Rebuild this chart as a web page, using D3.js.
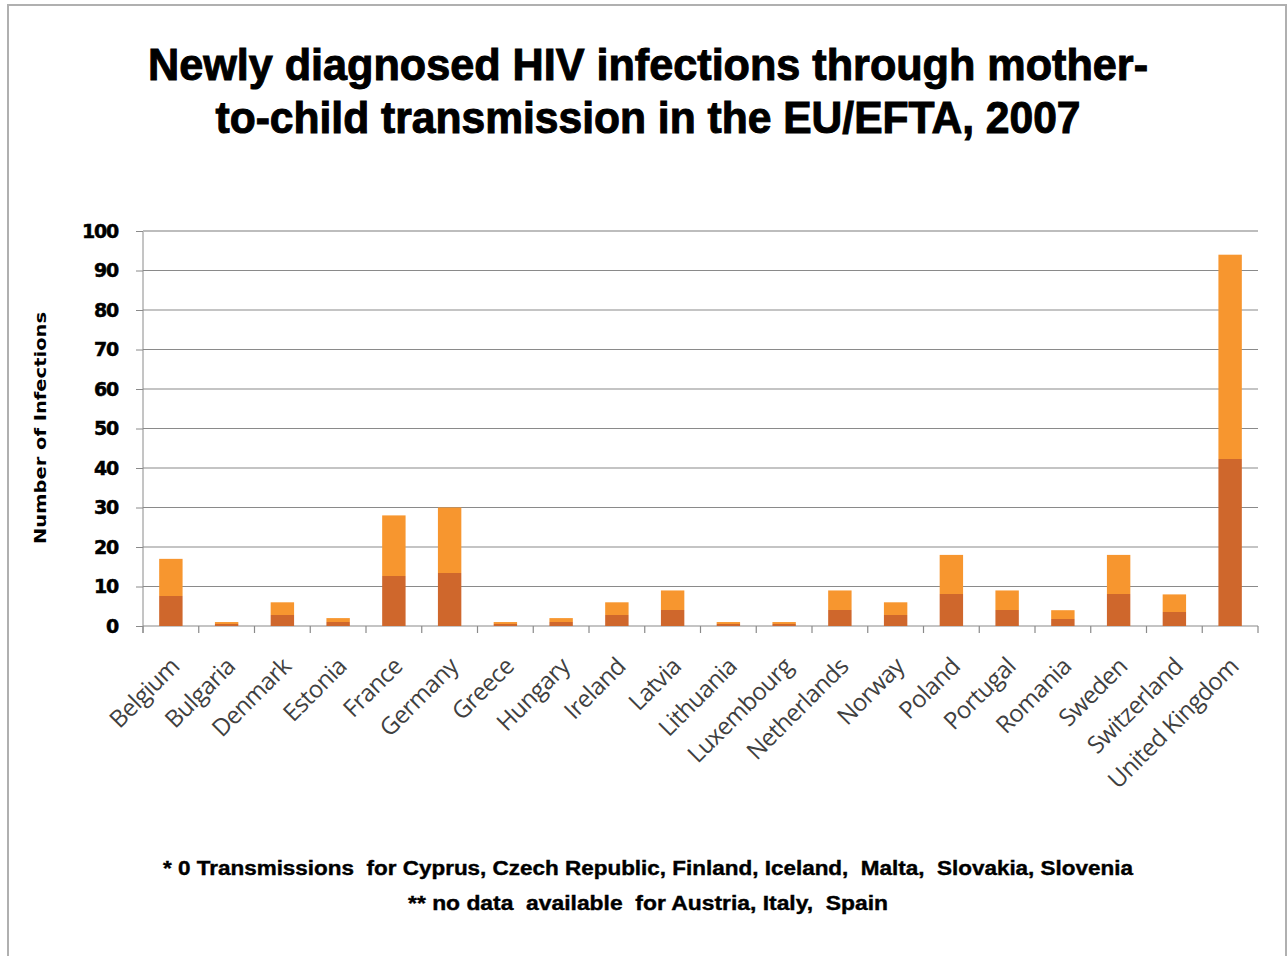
<!DOCTYPE html>
<html><head><meta charset="utf-8">
<script src="https://cdn.jsdelivr.net/npm/d3@7"></script>
<style>html,body{margin:0;padding:0;background:#fff;}svg{display:block;}</style>
</head><body>
<svg id="chart" width="1287" height="956"></svg>
<script>
const countries = ["Belgium","Bulgaria","Denmark","Estonia","France","Germany","Greece","Hungary","Ireland","Latvia","Lithuania","Luxembourg","Netherlands","Norway","Poland","Portugal","Romania","Sweden","Switzerland","United Kingdom"];
const infections = [17,1,6,2,28,30,1,2,6,9,1,1,9,6,18,9,4,18,8,94];
const yTicks = [0,10,20,30,40,50,60,70,80,90,100];
const titleLines = ["Newly diagnosed HIV infections through mother-","to-child transmission in the EU/EFTA, 2007"];
const yLabel = "Number of Infections";
const notes = ["* 0 Transmissions  for Cyprus, Czech Republic, Finland, Iceland,  Malta,  Slovakia, Slovenia","** no data  available  for Austria, Italy,  Spain"];

const svg = d3.select("#chart");
const plot = {left:143, right:1258, top:231, bottom:626};

// outer border
svg.append("rect").attr("x",8).attr("y",5).attr("width",1278).attr("height",960)
  .attr("fill","#fff").attr("stroke","#b0b0b0").attr("stroke-width",2);

const defs = svg.append("defs");
const grad = defs.append("linearGradient").attr("id","barFill").attr("x1",0).attr("y1",0).attr("x2",0).attr("y2",1);
grad.append("stop").attr("offset","0%").attr("stop-color","#f7962f");
grad.append("stop").attr("offset","55%").attr("stop-color","#f7962f");
grad.append("stop").attr("offset","55%").attr("stop-color","#cf672c");
grad.append("stop").attr("offset","100%").attr("stop-color","#cf672c");

const x = d3.scaleBand().domain(countries).range([plot.left, plot.right]).paddingInner(0.58).paddingOuter(0.29);
const xb = d3.scaleLinear().domain([0, countries.length]).range([plot.left, plot.right]);
const y = d3.scaleLinear().domain([0,100]).range([plot.bottom, plot.top]);

// gridlines + y ticks
const yAxis = d3.axisLeft(y).tickValues(yTicks).tickSize(7).tickPadding(18);
const gy = svg.append("g").attr("transform",`translate(${plot.left},0)`).call(yAxis);
gy.select(".domain").attr("stroke","#8a8a8a").attr("d",`M0,${plot.top}V${plot.bottom+7}`);
gy.selectAll(".tick line").attr("stroke","#8a8a8a");
gy.selectAll(".tick text").attr("font-family","'DejaVu Sans', sans-serif").attr("font-weight","bold")
  .attr("font-size",19).attr("fill","#000").attr("letter-spacing","-1.2")
  .attr("stroke","#000").attr("stroke-width",0.5);
svg.append("g").selectAll("line").data(yTicks).join("line")
  .attr("x1",plot.left).attr("x2",plot.right).attr("y1",d=>y(d)).attr("y2",d=>y(d))
  .attr("stroke",d=>d===100?"#bdbdbd":"#8a8a8a").attr("stroke-width",d=>d===100?2:1.2);

// x ticks at category boundaries
svg.append("g").selectAll("line").data(d3.range(countries.length+1)).join("line")
  .attr("x1",d=>xb(d)).attr("x2",d=>xb(d)).attr("y1",plot.bottom).attr("y2",plot.bottom+7)
  .attr("stroke","#8a8a8a").attr("stroke-width",1.2);

// bars
svg.append("g").selectAll("rect").data(countries).join("rect")
  .attr("x",d=>x(d)).attr("width",x.bandwidth())
  .attr("y",(d,i)=>y(infections[i])).attr("height",(d,i)=>y(0)-y(infections[i]))
  .attr("fill","url(#barFill)");

// category labels
svg.append("g").selectAll("text").data(countries).join("text")
  .attr("transform",d=>`translate(${x(d)+x.bandwidth()/2+10},${plot.bottom+42}) rotate(-45)`)
  .attr("text-anchor","end")
  .attr("font-family","'Open Sans', sans-serif").attr("font-size",24).attr("fill","#404040")
  .attr("letter-spacing","-0.6")
  .text(d=>d);

// title
svg.append("g").selectAll("text").data(titleLines).join("text")
  .attr("x",648).attr("y",(d,i)=>80+i*53).attr("text-anchor","middle")
  .attr("font-family","'Liberation Sans', Arial, sans-serif").attr("font-weight","bold").attr("font-size",44)
  .attr("textLength",(d,i)=>i===0?1000:865).attr("lengthAdjust","spacingAndGlyphs")
  .attr("fill","#000").attr("stroke","#000").attr("stroke-width",1).text(d=>d);

// y label
svg.append("text").attr("transform","translate(46,428) rotate(-90)").attr("text-anchor","middle")
  .attr("font-family","'DejaVu Sans', sans-serif").attr("font-weight","bold").attr("font-size",16)
  .attr("textLength",232).attr("lengthAdjust","spacingAndGlyphs").text(yLabel);

// footnotes
svg.append("g").selectAll("text").data(notes).join("text")
  .attr("x",648).attr("y",(d,i)=>875+i*35).attr("text-anchor","middle")
  .attr("font-family","'Liberation Sans', Arial, sans-serif").attr("font-weight","bold").attr("font-size",20)
  .attr("textLength",(d,i)=>i===0?970:480).attr("lengthAdjust","spacingAndGlyphs")
  .attr("fill","#000").attr("stroke","#000").attr("stroke-width",0.4)
  .attr("xml:space","preserve").text(d=>d);
</script>
</body></html>
